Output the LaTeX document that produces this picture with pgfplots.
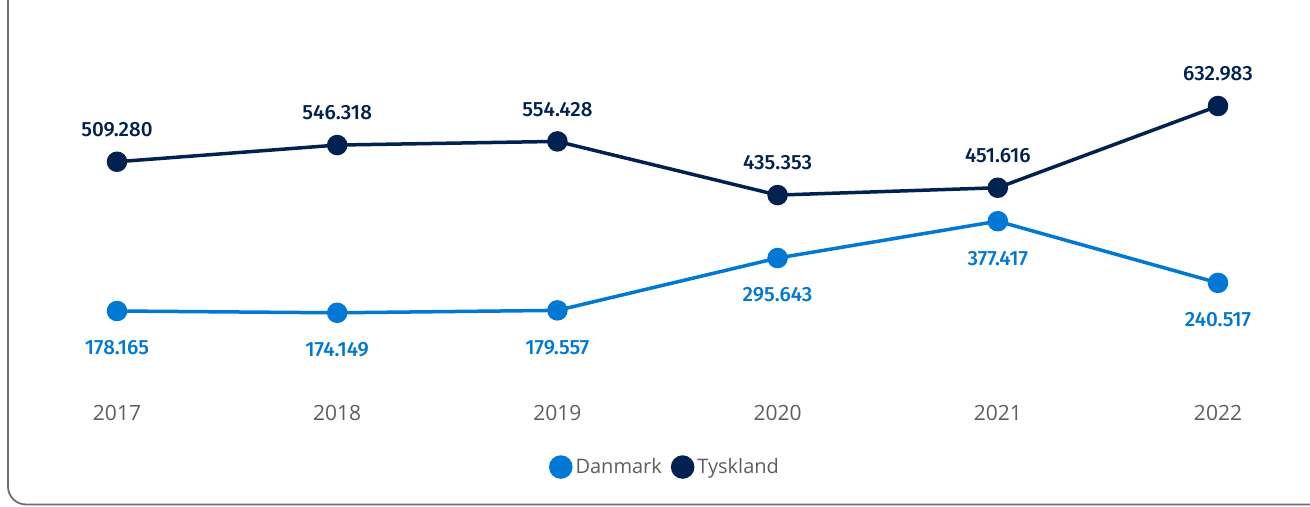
\documentclass[border=0pt]{standalone}
\usepackage{pgfplots}
\pgfplotsset{compat=1.18}
\usepackage{fontspec}
\setmainfont{Open Sans}
\newfontfamily\dinfont{Fira Sans}[UprightFont={* Medium}]
\definecolor{dk}{RGB}{0,120,212}
\definecolor{de}{RGB}{1,33,80}
\definecolor{tickgray}{RGB}{96,94,92}
\definecolor{bordergray}{RGB}{110,110,110}
\begin{document}
\begin{tikzpicture}
\begin{axis}[
  scale only axis,
  width=655pt, height=253pt,
  xmin=-0.5313, xmax=5.4178,
  ymin=-254.5, ymax=868.2,
  axis line style={draw=none},
  tick style={draw=none},
  clip=false,
  xtick={0,1,2,3,4,5},
  xticklabels={2017,2018,2019,2020,2021,2022},
  xtick pos=lower,
  ytick=\empty,
  major tick length=0pt,
  xticklabel style={anchor=center, yshift=46.5pt, font=\fontsize{10.5}{12}\selectfont, text=tickgray},
  legend style={draw=none, fill=none, at={(0.508,0.077)}, anchor=center,
    legend columns=2, font=\fontsize{10}{12}\selectfont, text=tickgray,
    /tikz/every even column/.append style={column sep=3pt},
    inner sep=0pt, nodes={inner sep=1.5pt}},
  legend image code/.code={\fill[#1] (0.25em,0) circle (5pt);},
  every node near coord/.append style={font=\dinfont\fontsize{10.3}{12}\selectfont, anchor=center},
]
\coordinate (BL) at (rel axis cs:0,0);
\coordinate (TR) at (rel axis cs:1,1);
\draw[bordergray, line width=0.9pt, rounded corners=9pt]
  (axis description cs:0.0061,1.02) -- (axis description cs:0.0061,0.003) -- (axis description cs:1.02,0.003);
\addplot[color=dk, line width=1.75pt, mark=*, mark size=4.25pt,
  point meta=explicit symbolic, nodes near coords,
  every node near coord/.append style={yshift=-18.5pt, text=dk}]
  coordinates {(0,178.165)[178.165] (1,174.149)[174.149] (2,179.557)[179.557]
               (3,295.643)[295.643] (4,377.417)[377.417] (5,240.517)[240.517]};
\addlegendentry{Danmark}
\addplot[color=de, line width=1.75pt, mark=*, mark size=4.25pt,
  point meta=explicit symbolic, nodes near coords,
  every node near coord/.append style={yshift=16pt, text=de}]
  coordinates {(0,509.280)[509.280] (1,546.318)[546.318] (2,554.428)[554.428]
               (3,435.353)[435.353] (4,451.616)[451.616] (5,632.983)[632.983]};
\addlegendentry{Tyskland}
\end{axis}
\pgfresetboundingbox
\path[use as bounding box] (BL) rectangle (TR);
\end{tikzpicture}
\end{document}
